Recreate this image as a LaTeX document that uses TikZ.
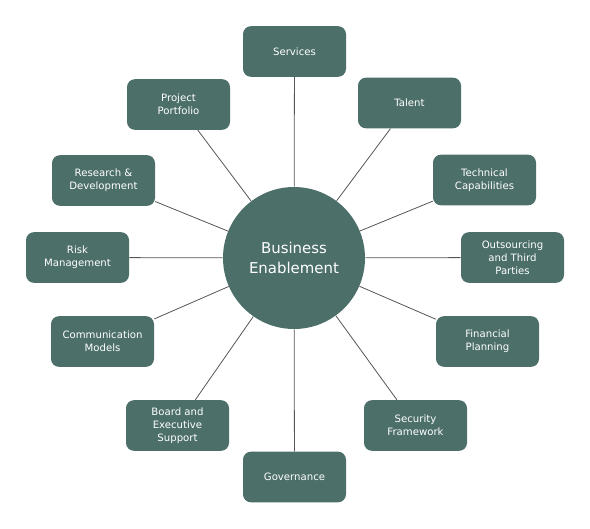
\documentclass[tikz,border=0pt]{standalone}
\usepackage{fontspec}
\setmainfont{DejaVu Sans}
\definecolor{boxfill}{HTML}{4C6F69}
\definecolor{linegray}{HTML}{555555}
\begin{document}
\begin{tikzpicture}[x=0.75pt,y=-0.75pt,
  itembox/.style={fill=boxfill, rounded corners=6pt, minimum width=77.25pt, minimum height=38pt,
    text=white, align=center, font=\fontsize{7.6pt}{9.6pt}\selectfont, inner sep=1pt},
  hub/.style={circle, fill=boxfill, minimum size=106.5pt, text=white, align=center,
    font=\fontsize{11.2pt}{14.5pt}\selectfont, inner sep=0pt},
  spoke/.style={draw=linegray, line width=0.6pt}]
\useasboundingbox (0,0) rectangle (590,529);
\node[hub] (c) at (294,258) {Business\\Enablement};
\node[itembox] (s1) at (294.5,51.5) {Services};
\node[itembox] (s2) at (409.5,103) {Talent};
\node[itembox] (s3) at (484.5,180) {Technical\\Capabilities};
\node[itembox] (s4) at (512.5,257.5) {Outsourcing\\and Third\\Parties};
\node[itembox] (s5) at (487.5,341.5) {Financial\\Planning};
\node[itembox] (s6) at (415.5,425.5) {Security\\Framework};
\node[itembox] (s7) at (294.5,477) {Governance};
\node[itembox] (s8) at (177.5,425.5) {Board and\\Executive\\Support};
\node[itembox] (s9) at (102.5,341.5) {Communication\\Models};
\node[itembox] (s10) at (77.5,257.5) {Risk\\Management};
\node[itembox] (s11) at (103.5,180.5) {Research \&\\Development};
\node[itembox] (s12) at (178.5,104.5) {Project\\Portfolio};
\begin{scope}[on background layer/.try]
\end{scope}
\foreach \i in {1,...,12} {
  \path[spoke] (c) -- (s\i);
}
\end{tikzpicture}
\end{document}
